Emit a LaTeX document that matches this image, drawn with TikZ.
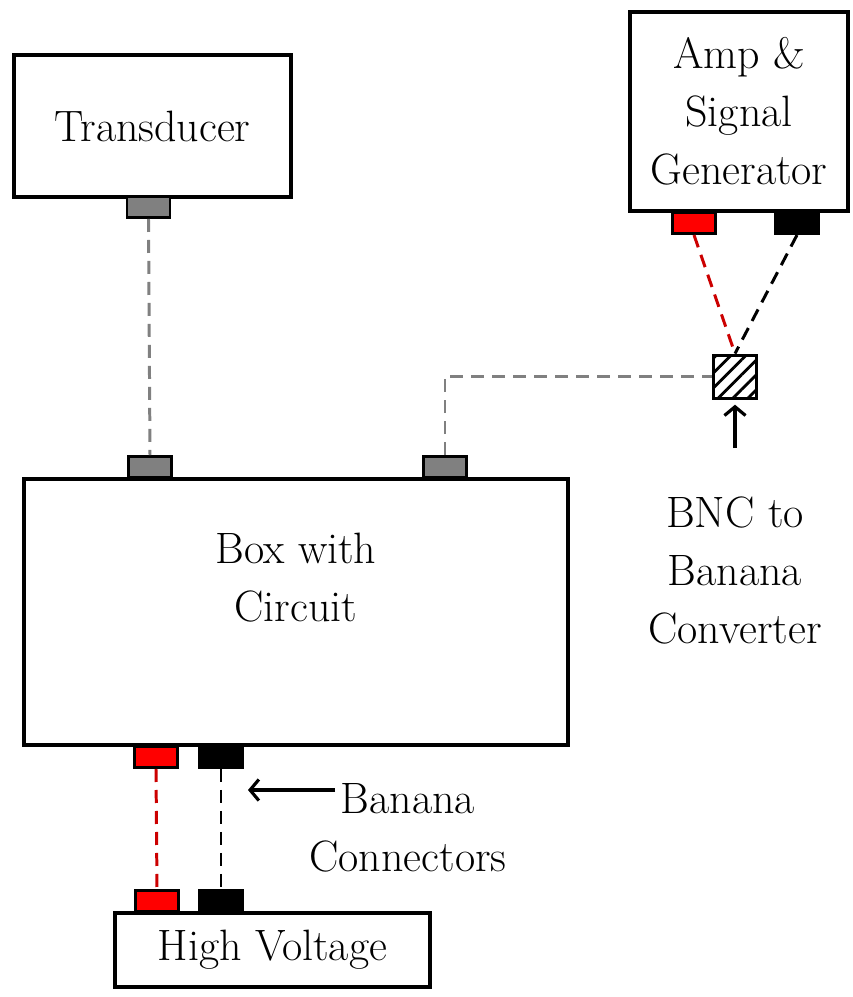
\documentclass[tikz,border=0pt]{standalone}
\usepackage{tikz}
\usetikzlibrary{patterns.meta,arrows.meta}

\begin{document}
\begin{tikzpicture}[
    box/.style={
        rectangle, draw, line width=1.8pt,
        align=center, font=\fontsize{25}{33}\selectfont, inner sep=0pt
    },
    lbl/.style={align=center, font=\fontsize{25}{33}\selectfont, inner sep=0pt},
    plug/.style={rectangle, draw, line width=1.7pt, minimum width=0.86cm, minimum height=0.42cm, inner sep=0pt},
    wire/.style={line width=1.7pt, dash pattern=on 0.26cm off 0.16cm},
    arrow/.style={-{Straight Barb[length=5pt,width=12pt]}, line width=1.8pt}
]
\useasboundingbox (0,0) rectangle (17.06,-19.94);

% Boxes
\node[box, minimum width=5.54cm, minimum height=2.84cm] (trans) at (3.05,-2.52) {Transducer};
\node[box, minimum width=4.36cm, minimum height=3.98cm] (amp) at (14.78,-2.23) {Amp \&\\Signal\\Generator};
\node[box, minimum width=10.88cm, minimum height=5.32cm] (circ) at (5.92,-12.24) {};
\node[lbl] (circlbl) at (5.92,-11.55) {Box with\\Circuit};
\node[box, minimum width=6.3cm, minimum height=1.48cm] (hv) at (5.45,-19.0) {High Voltage};
\node[rectangle, draw, line width=1.7pt, minimum size=0.86cm, inner sep=0pt,
      pattern={Lines[angle=45, distance=6pt, line width=1.6pt]}] (bnc) at (14.7,-7.53) {};

% Plugs
\node[plug, fill=gray, anchor=north] (transP) at (2.97,-3.9) {};
\node[plug, fill=gray, anchor=south] (circA) at (3.0,-9.58) {};
\node[plug, fill=gray, anchor=south] (circB) at (8.9,-9.58) {};
\node[plug, fill=red, anchor=north] (ampR) at (13.88,-4.22) {};
\node[plug, fill=black, anchor=north] (ampK) at (15.94,-4.22) {};
\node[plug, fill=red, anchor=north] (circR) at (3.12,-14.9) {};
\node[plug, fill=black, anchor=north] (circK) at (4.42,-14.9) {};
\node[plug, fill=red, anchor=south] (hvR) at (3.14,-18.26) {};
\node[plug, fill=black, anchor=south] (hvK) at (4.42,-18.26) {};

% Wires
\draw[wire, gray] (transP.south) -- (circA.north);
\draw[wire, gray] (circB.north) |- (bnc.west);
\draw[wire, red!80!black] (ampR.south) -- (bnc.north);
\draw[wire, black] (ampK.south) -- (bnc.north);
\draw[wire, red!80!black] (circR.south) -- (hvR.north);
\draw[wire, black] (circK.south) -- (hvK.north);

% Labels
\node[lbl] (bnclbl) at (14.7,-11.4) {BNC to\\Banana\\Converter};
\coordinate (bnctail) at (14.7,-8.96);
\draw[arrow, shorten >=3pt] (bnctail) -- (bnc.south);
\node[lbl] (banlbl) at (8.16,-16.55) {Banana\\Connectors};
\coordinate (bantail) at (6.7,-15.8);
\coordinate (bantip) at (4.96,-15.8);
\draw[arrow] (bantail) -- (bantip);

\end{tikzpicture}
\end{document}
